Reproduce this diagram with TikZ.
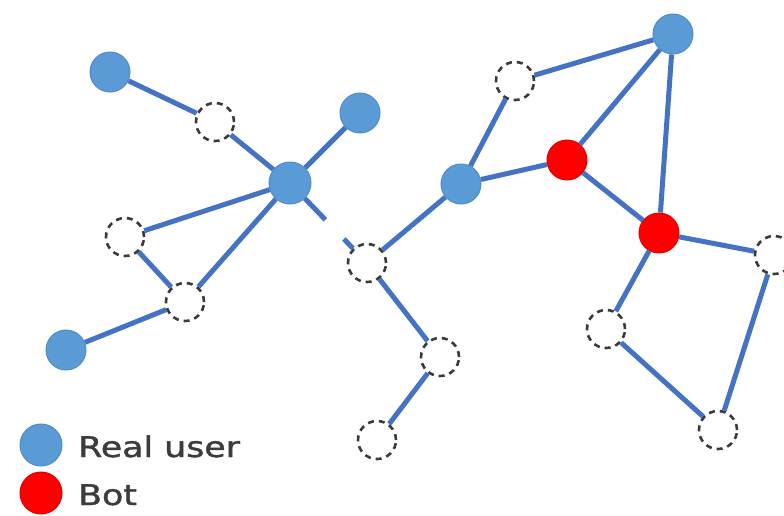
\documentclass[tikz,border=0pt]{standalone}
\usepackage{fontspec}
\setmainfont{DejaVu Sans}
\newfontfamily\legfont[FakeBold=1.3]{DejaVu Sans}
\usetikzlibrary{calc}
\definecolor{userfill}{HTML}{5B9BD5}
\definecolor{userdraw}{HTML}{4F8CC9}
\definecolor{botfill}{HTML}{FF0000}
\definecolor{botdraw}{HTML}{E00000}
\definecolor{edgecol}{HTML}{4472C4}
\definecolor{dashcol}{HTML}{3A3A3A}
\definecolor{txtcol}{HTML}{3C3C3C}
\tikzset{
  user/.style={circle,fill=userfill,draw=userdraw,line width=1pt,minimum size=40pt,inner sep=0pt},
  hub/.style={user,minimum size=42pt},
  bot/.style={circle,fill=botfill,draw=botdraw,line width=1pt,minimum size=40pt,inner sep=0pt},
  hidden/.style={circle,fill=white,draw=dashcol,line width=2.6pt,dash pattern=on 6pt off 5pt,minimum size=38pt,inner sep=0pt},
  link/.style={draw=edgecol,line width=5pt},
  legtext/.style={anchor=base west,inner sep=0pt,text=txtcol,font=\legfont\fontsize{28.5}{30}\selectfont}
}
\begin{document}
\begin{tikzpicture}[x=1pt,y=-1pt]
\useasboundingbox (0,0) rectangle (784,515);
\clip (0,0) rectangle (784,515);
% nodes
\node[user] (A) at (110,72) {};
\node[user] (B) at (360,113) {};
\node[hub] (C) at (290,183) {};
\node[user] (D) at (66,350) {};
\node[user] (E) at (461,184) {};
\node[user] (F) at (673,34) {};
\node[bot] (G) at (567,160) {};
\node[bot] (H) at (659,233) {};
\node[hidden] (d1) at (215,122) {};
\node[hidden] (d2) at (125,237) {};
\node[hidden] (d3) at (185,302) {};
\node[hidden] (d4) at (367,263) {};
\node[hidden] (d5) at (440,357) {};
\node[hidden] (d6) at (377,440) {};
\node[hidden] (d7) at (515,81) {};
\node[hidden] (d8) at (606,329) {};
\node[hidden] (d9) at (718,430) {};
\node[hidden] (d10) at (774,255) {};
\coordinate (gapA) at ($(C)!0.46!(d4)$);
\coordinate (gapB) at ($(C)!0.70!(d4)$);
% edges
\path[link] (A) -- (d1);
\path[link] (d1) -- (C);
\path[link] (B) -- (C);
\path[link] (C) -- (d2);
\path[link] (C) -- (d3);
\path[link] (d2) -- (d3);
\path[link] (d3) -- (D);
\path[link] (C) -- (gapA);
\path[link] (gapB) -- (d4);
\path[link] (d4) -- (E);
\path[link] (d4) -- (d5);
\path[link] (d5) -- (d6);
\path[link] (E) -- (d7);
\path[link] (d7) -- (F);
\path[link] (E) -- (G);
\path[link] (G) -- (F);
\path[link] (G) -- (H);
\path[link] (F) -- (H);
\path[link] (H) -- (d10);
\path[link] (H) -- (d8);
\path[link] (d8) -- (d9);
\path[link] (d9) -- (d10);
% legend
\node[user,minimum size=42pt] (legU) at (41,445) {};
\node[bot,minimum size=42pt] (legB) at (41,493) {};
\node[legtext] (legUt) at (78,457) {\scalebox{1.22}[1]{Real user}};
\node[legtext] (legBt) at (78,505) {\scalebox{1.22}[1]{Bot}};
\end{tikzpicture}
\end{document}
